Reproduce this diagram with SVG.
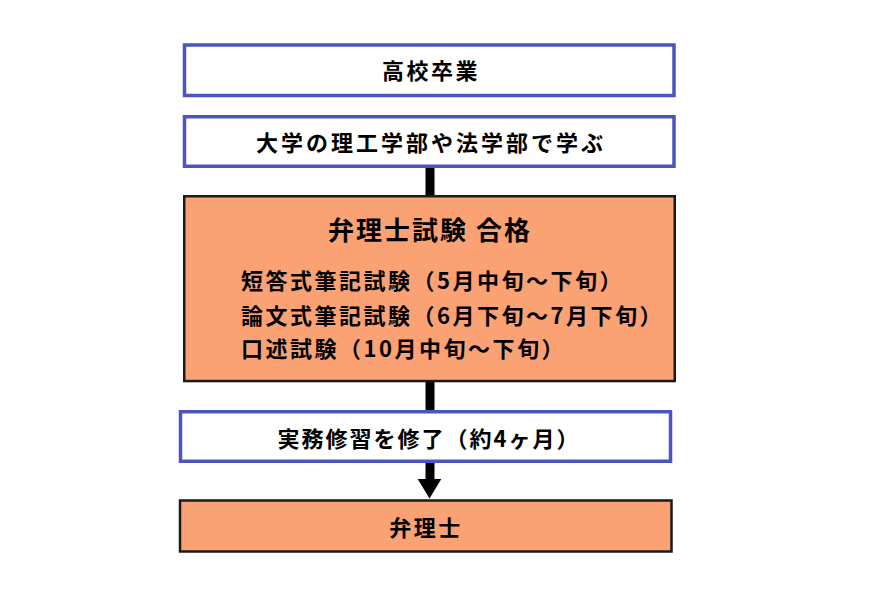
<svg xmlns="http://www.w3.org/2000/svg" width="886" height="590" viewBox="0 0 886 590">
<style>
.blue{fill:#ffffff;stroke:#4B55C2;stroke-width:3.5}
.orange{fill:#FBA275;stroke:#1a1a1a;stroke-width:2.5}
text{font-family:"Noto Sans CJK JP","Noto Sans",sans-serif;font-weight:bold;fill:#000;font-size:22px;letter-spacing:2.5px}
.c{text-anchor:middle}
.title{font-size:26px;letter-spacing:2px}
.conn{fill:#000}
</style>
<rect width="886" height="590" fill="#ffffff"/>
<g id="connectors">
<rect class="conn" x="425.5" y="167" width="9" height="30"/>
<rect class="conn" x="425.5" y="381" width="9" height="31"/>
<rect class="conn" x="425.5" y="462" width="9" height="18"/>
<polygon class="conn" points="417.7,479 441.3,479 429.5,498.5"/>
</g>
<g id="node-kousotsu">
<rect class="blue" x="184.5" y="45" width="489.5" height="50.5"/>
<text class="c" x="431" y="79">高校卒業</text>
</g>
<g id="node-daigaku">
<rect class="blue" x="184.5" y="116.75" width="489.5" height="49.5"/>
<text class="c" x="431" y="151" style="letter-spacing:3px">大学の理工学部や法学部で学ぶ</text>
</g>
<g id="node-shiken">
<rect class="orange" x="184.25" y="196.25" width="490.5" height="184.8"/>
<text class="c title" x="430" y="240">弁理士試験 合格</text>
<text x="241" y="289">短答式筆記試験（5月中旬～下旬）</text>
<text x="241" y="324">論文式筆記試験（6月下旬～7月下旬）</text>
<text x="241" y="357">口述試験（10月中旬～下旬）</text>
</g>
<g id="node-jitsumu">
<rect class="blue" x="180.5" y="411.75" width="490" height="49.5"/>
<text class="c" x="429" y="447" style="letter-spacing:2px">実務修習を修了（約4ヶ月）</text>
</g>
<g id="node-benrishi">
<rect class="orange" x="180" y="500.5" width="491.5" height="51"/>
<text class="c" x="426" y="536">弁理士</text>
</g>
</svg>
